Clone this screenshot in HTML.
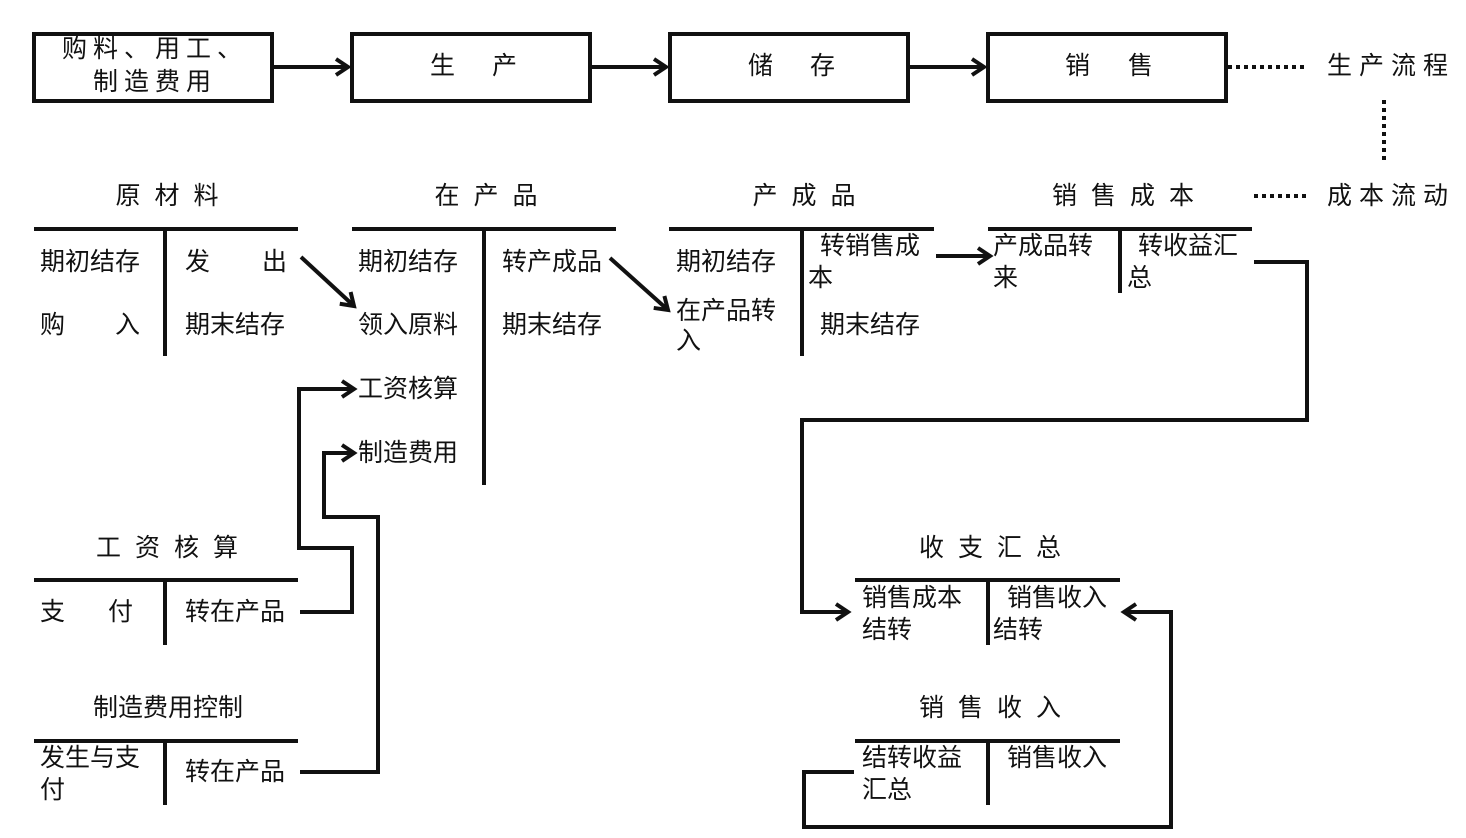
<!DOCTYPE html>
<html><head><meta charset="utf-8"><style>
html,body{margin:0;padding:0;background:#fff;}
svg{display:block;}
text{font-family:"Liberation Sans","Noto Sans CJK SC","WenQuanYi Zen Hei",sans-serif;font-size:25px;fill:#111;dominant-baseline:central;}
</style></head><body>
<svg width="1466" height="838" viewBox="0 0 1466 838" xmlns="http://www.w3.org/2000/svg">
<defs>
<marker id="a" markerWidth="20" markerHeight="20" refX="14" refY="10" orient="auto" markerUnits="userSpaceOnUse">
<polyline points="2,2 14,10 2,18" fill="none" stroke="#111" stroke-width="4"/>
</marker>
</defs>
<g fill="none" stroke="#111" stroke-width="4">
<rect x="34" y="34" width="238" height="67"/>
<rect x="352" y="34" width="238" height="67"/>
<rect x="670" y="34" width="238" height="67"/>
<rect x="988" y="34" width="238" height="67"/>
<line x1="274" y1="67" x2="348" y2="67" marker-end="url(#a)"/>
<line x1="592" y1="67" x2="666" y2="67" marker-end="url(#a)"/>
<line x1="910" y1="67" x2="984" y2="67" marker-end="url(#a)"/>
<line x1="1228" y1="67" x2="1306" y2="67" stroke-dasharray="4,4"/>
<line x1="1384" y1="100" x2="1384" y2="162" stroke-dasharray="4,4"/>
<line x1="1254" y1="196" x2="1306" y2="196" stroke-dasharray="4,4"/>
<line x1="34" y1="229" x2="298" y2="229"/><line x1="165" y1="229" x2="165" y2="356"/>
<line x1="352" y1="229" x2="616" y2="229"/><line x1="484" y1="229" x2="484" y2="485"/>
<line x1="669" y1="229" x2="934" y2="229"/><line x1="802" y1="229" x2="802" y2="356"/>
<line x1="988" y1="229" x2="1252" y2="229"/><line x1="1120" y1="229" x2="1120" y2="293"/>
<line x1="34" y1="580" x2="298" y2="580"/><line x1="165" y1="580" x2="165" y2="645"/>
<line x1="34" y1="741" x2="298" y2="741"/><line x1="165" y1="741" x2="165" y2="805"/>
<line x1="855" y1="580" x2="1120" y2="580"/><line x1="988" y1="580" x2="988" y2="645"/>
<line x1="855" y1="741" x2="1120" y2="741"/><line x1="988" y1="741" x2="988" y2="805"/>
<line x1="301" y1="257" x2="354" y2="306" marker-end="url(#a)"/>
<line x1="610" y1="258" x2="668" y2="310" marker-end="url(#a)"/>
<line x1="936" y1="256" x2="990" y2="256" marker-end="url(#a)"/>
<polyline points="1254,262 1307,262 1307,420 802,420 802,612 848,612" marker-end="url(#a)"/>
<polyline points="300,612 352,612 352,548 299,548 299,389 354,389" marker-end="url(#a)"/>
<polyline points="300,772 378,772 378,517 324,517 324,453 354,453" marker-end="url(#a)"/>
<polyline points="854,772 804,772 804,827 1171,827 1171,612 1124,612" marker-end="url(#a)"/>
</g>
<text x="155" y="49" text-anchor="middle" letter-spacing="6">购料、用工、</text>
<text x="155" y="82" text-anchor="middle" letter-spacing="6">制造费用</text>
<text x="430" y="66">生</text><text x="492" y="66">产</text>
<text x="748" y="66">储</text><text x="810" y="66">存</text>
<text x="1065" y="66">销</text><text x="1128" y="66">售</text>
<text x="1327" y="66" letter-spacing="7">生产流程</text>
<text x="1327" y="196" letter-spacing="7">成本流动</text>
<text x="174" y="196" text-anchor="middle" letter-spacing="14">原材料</text>
<text x="493" y="196" text-anchor="middle" letter-spacing="14">在产品</text>
<text x="811" y="196" text-anchor="middle" letter-spacing="14">产成品</text>
<text x="1130" y="196" text-anchor="middle" letter-spacing="14">销售成本</text>
<text x="174" y="548" text-anchor="middle" letter-spacing="14">工资核算</text>
<text x="168" y="708" text-anchor="middle">制造费用控制</text>
<text x="997" y="548" text-anchor="middle" letter-spacing="14">收支汇总</text>
<text x="997" y="708" text-anchor="middle" letter-spacing="14">销售收入</text>
<text x="40" y="262">期初结存</text><text x="40" y="325">购</text><text x="115" y="325">入</text>
<text x="185" y="262">发</text><text x="262" y="262">出</text><text x="185" y="325">期末结存</text>
<text x="358" y="262">期初结存</text><text x="358" y="325">领入原料</text><text x="358" y="389">工资核算</text><text x="358" y="453">制造费用</text>
<text x="502" y="262">转产成品</text><text x="502" y="325">期末结存</text>
<text x="676" y="262">期初结存</text><text x="676" y="311">在产品转</text><text x="676" y="341">入</text>
<text x="820" y="246">转销售成</text><text x="808" y="278">本</text><text x="820" y="325">期末结存</text>
<text x="993" y="246">产成品转</text><text x="993" y="278">来</text>
<text x="1138" y="246">转收益汇</text><text x="1127" y="278">总</text>
<text x="40" y="612">支</text><text x="108" y="612">付</text><text x="185" y="612">转在产品</text>
<text x="40" y="758">发生与支</text><text x="40" y="790">付</text><text x="185" y="772">转在产品</text>
<text x="862" y="598">销售成本</text><text x="862" y="630">结转</text>
<text x="1007" y="598">销售收入</text><text x="993" y="630">结转</text>
<text x="862" y="758">结转收益</text><text x="862" y="790">汇总</text>
<text x="1007" y="758">销售收入</text>
</svg>
</body></html>
